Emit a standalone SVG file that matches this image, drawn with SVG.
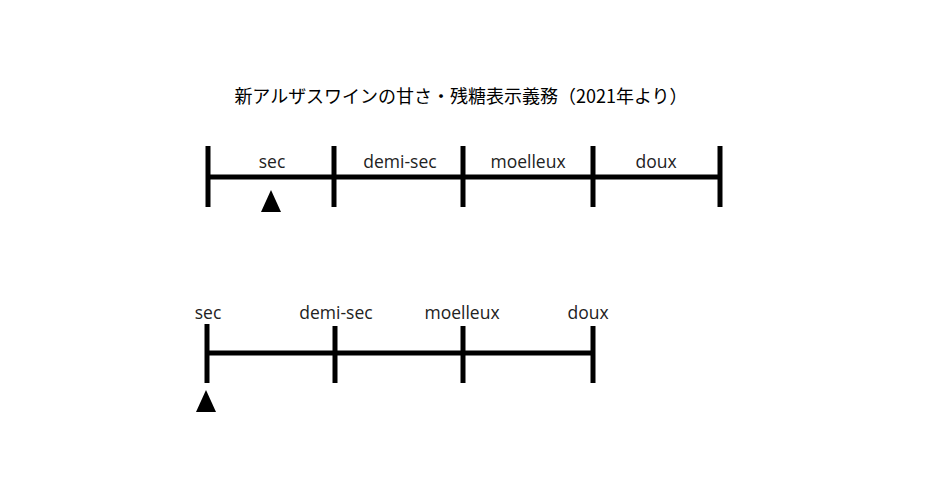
<svg xmlns="http://www.w3.org/2000/svg" width="928" height="484" viewBox="0 0 928 484">
<style>
.ln{stroke:#000;stroke-width:5;fill:none;stroke-linecap:butt}
.lb{font-family:"Open Sans","Liberation Sans",sans-serif;font-size:17.5px;fill:#222;text-anchor:middle}
.tt{font-family:"Noto Sans CJK JP","Noto Sans",sans-serif;font-size:18px;fill:#000;text-anchor:middle}
</style>
<rect width="928" height="484" fill="#fff"/>
<g id="title"><text class="tt" x="461" y="103">新アルザスワインの甘さ・残糖表示義務（2021年より）</text></g>
<g id="connectors">
<line class="ln" x1="207" y1="177" x2="721" y2="177"/>
<line class="ln" x1="207" y1="353" x2="593" y2="353"/>
</g>
<g id="scale-top">
<line class="ln" x1="208" y1="146" x2="208" y2="207"/>
<line class="ln" x1="334" y1="146" x2="334" y2="207"/>
<line class="ln" x1="463" y1="146" x2="463" y2="207"/>
<line class="ln" x1="593" y1="146" x2="593" y2="207"/>
<line class="ln" x1="720" y1="146" x2="720" y2="207"/>
<text class="lb" x="272" y="168">sec</text>
<text class="lb" x="400" y="168">demi-sec</text>
<text class="lb" x="528" y="168">moelleux</text>
<text class="lb" x="656" y="168">doux</text>
<polygon points="271,190 281,212 261,212" fill="#000"/>
</g>
<g id="scale-bottom">
<line class="ln" x1="207" y1="324" x2="207" y2="383"/>
<line class="ln" x1="335" y1="326" x2="335" y2="383"/>
<line class="ln" x1="463" y1="326" x2="463" y2="383"/>
<line class="ln" x1="593" y1="326" x2="593" y2="383"/>
<text class="lb" x="208" y="319">sec</text>
<text class="lb" x="336" y="319">demi-sec</text>
<text class="lb" x="462" y="319">moelleux</text>
<text class="lb" x="588" y="319">doux</text>
<polygon points="206,390 216,412 196,412" fill="#000"/>
</g>
</svg>
